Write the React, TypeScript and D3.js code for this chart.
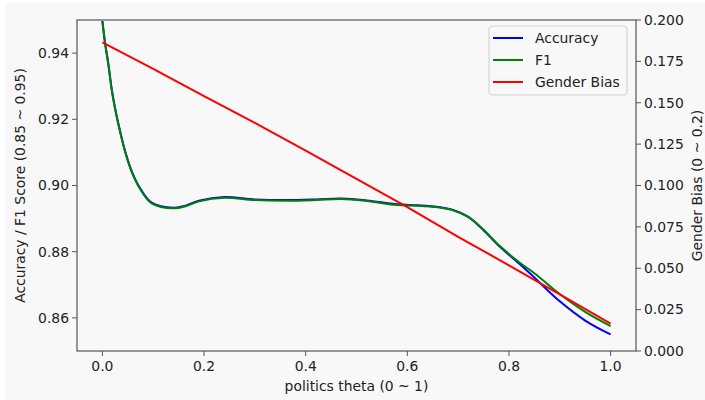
import React from "react";
import * as d3 from "d3";

const theta = [0, 0.005, 0.012, 0.018, 0.025, 0.035, 0.045, 0.058, 0.074, 0.097, 0.14, 0.165, 0.19, 0.24, 0.3, 0.36, 0.42, 0.47, 0.52, 0.58, 0.62, 0.66, 0.69, 0.72, 0.75, 0.78, 0.82, 0.85, 0.9, 0.95, 1.0];
const accuracy = [0.9497, 0.9434, 0.9364, 0.9294, 0.9233, 0.9163, 0.9102, 0.9042, 0.8992, 0.8948, 0.8933, 0.894, 0.8954, 0.8965, 0.8958, 0.8956, 0.8958, 0.8961, 0.8955, 0.8943, 0.894, 0.8935, 0.8926, 0.8905, 0.8865, 0.8818, 0.8764, 0.8722, 0.865, 0.8592, 0.855];
const f1 = [0.9495, 0.9432, 0.9362, 0.9292, 0.9231, 0.9161, 0.91, 0.904, 0.899, 0.8946, 0.8931, 0.8938, 0.8952, 0.8963, 0.8956, 0.8954, 0.8956, 0.8959, 0.8953, 0.8941, 0.8939, 0.8934, 0.8925, 0.8905, 0.8866, 0.882, 0.8768, 0.8735, 0.8672, 0.8618, 0.8575];
const biasTheta = [0, 0.1, 0.2, 0.3, 0.4, 0.5, 0.6, 0.7, 0.8, 0.9, 1.0];
const bias = [0.1865, 0.1705, 0.154, 0.1378, 0.1211, 0.104, 0.087, 0.069, 0.0518, 0.0342, 0.0166];

const xTicks = [0, 0.2, 0.4, 0.6, 0.8, 1.0];
const yLeftTicks = [0.86, 0.88, 0.9, 0.92, 0.94];
const yRightTicks = [0, 0.025, 0.05, 0.075, 0.1, 0.125, 0.15, 0.175, 0.2];

const legendItems = [
  { label: "Accuracy", color: "#0000ff" },
  { label: "F1", color: "#008000" },
  { label: "Gender Bias", color: "#ff0000" },
];

export default function App() {
  const W = 705, H = 400;
  const L = 77, R = 636, T = 20, B = 351;
  const x = d3.scaleLinear().domain([-0.05, 1.05]).range([L, R]);
  const yL = d3.scaleLinear().domain([0.85, 0.95]).range([B, T]);
  const yR = d3.scaleLinear().domain([0, 0.2]).range([B, T]);
  const font = "DejaVu Sans, sans-serif";
  const text = "#222";
  const spine = "#555";

  const curve = d3.curveCatmullRom.alpha(0.5);
  const accPath = d3.line<number>().x((_, i) => x(theta[i])).y((d) => yL(d)).curve(curve)(accuracy) || "";
  const f1Path = d3.line<number>().x((_, i) => x(theta[i])).y((d) => yL(d)).curve(curve)(f1) || "";
  const biasPath = d3.line<number>().x((_, i) => x(biasTheta[i])).y((d) => yR(d))(bias) || "";

  const lgX = 489, lgY = 26, lgW = 138, lgH = 69;

  return (
    <svg width={W} height={H} style={{ position: "absolute", left: 0, top: 0 }} fontFamily={font}>
      <rect x={0} y={0} width={W} height={H} fill="#ffffff" />
      <rect x={5} y={3} width={W - 5} height={H - 3} fill="#f8f8f8" />
      <defs>
        <clipPath id="plotclip">
          <rect x={L} y={T} width={R - L} height={B - T} />
        </clipPath>
      </defs>
      <g clipPath="url(#plotclip)" fill="none" strokeWidth={2} strokeLinejoin="round" strokeLinecap="butt">
        <path d={accPath} stroke="#0000ff" />
        <path d={f1Path} stroke="#008000" />
        <path d={biasPath} stroke="#ff0000" />
      </g>
      <rect x={L} y={T} width={R - L} height={B - T} fill="none" stroke={spine} strokeWidth={1.2} />
      {xTicks.map((t) => (
        <g key={"x" + t}>
          <line x1={x(t)} x2={x(t)} y1={B} y2={B + 5} stroke={spine} strokeWidth={1} />
          <text x={x(t)} y={B + 20} textAnchor="middle" fontSize={13.9} fill={text}>{t.toFixed(1)}</text>
        </g>
      ))}
      {yLeftTicks.map((t) => (
        <g key={"yl" + t}>
          <line x1={L - 5} x2={L} y1={yL(t)} y2={yL(t)} stroke={spine} strokeWidth={1} />
          <text x={L - 8} y={yL(t)} dy="0.35em" textAnchor="end" fontSize={13.9} fill={text}>{t.toFixed(2)}</text>
        </g>
      ))}
      {yRightTicks.map((t) => (
        <g key={"yr" + t}>
          <line x1={R} x2={R + 5} y1={yR(t)} y2={yR(t)} stroke={spine} strokeWidth={1} />
          <text x={R + 8} y={yR(t)} dy="0.35em" textAnchor="start" fontSize={13.9} fill={text}>{t.toFixed(3)}</text>
        </g>
      ))}
      <text x={(L + R) / 2} y={391} textAnchor="middle" fontSize={13.9} fill={text}>politics theta (0 ~ 1)</text>
      <text transform={`translate(25,${(T + B) / 2}) rotate(-90)`} textAnchor="middle" fontSize={13.9} fill={text}>Accuracy / F1 Score (0.85 ~ 0.95)</text>
      <text transform={`translate(702,${(T + B) / 2}) rotate(-90)`} textAnchor="middle" fontSize={13.9} fill={text}>Gender Bias (0 ~ 0.2)</text>
      <rect x={lgX} y={lgY} width={lgW} height={lgH} rx={3} fill="#f8f8f8" fillOpacity={0.8} stroke="#d0d0d0" strokeWidth={1} />
      {legendItems.map((it, i) => (
        <g key={it.label}>
          <line x1={493} x2={523} y1={38 + i * 22} y2={38 + i * 22} stroke={it.color} strokeWidth={2} />
          <text x={535} y={38 + i * 22} dy="0.35em" fontSize={13.9} fill={text}>{it.label}</text>
        </g>
      ))}
    </svg>
  );
}
